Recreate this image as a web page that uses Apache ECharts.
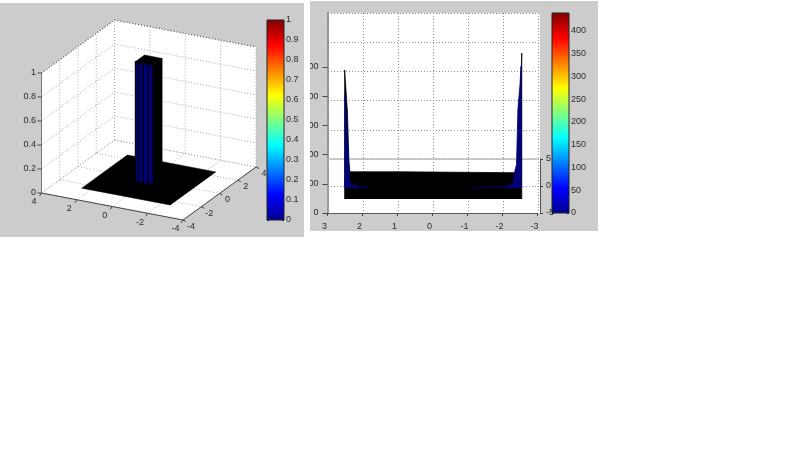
<!DOCTYPE html>
<html>
<head>
<meta charset="utf-8">
<style>html,body{margin:0;padding:0;background:#fff}#c{width:800px;height:449px;filter:blur(0.45px)}</style>
<script src="https://cdn.jsdelivr.net/npm/echarts@6/dist/echarts.min.js"></script>
</head>
<body>
<div id="c"></div>
<script>
// ---- left surface plot data ----
const xTicks3d = [4, 2, 0, -2, -4];
const yTicks3d = [-4, -2, 0, 2, 4];
const zTicks3d = [0, 0.2, 0.4, 0.6, 0.8, 1];
const floorEdge = [-2.5, 2.5];
const floorHeight = 0;
const pulseMeshX = [0.5, 0.33, 0.05, -0.23, -0.5];
const pulseMeshY = [-0.5, 0.5];
const pulseHeight = 1;
// ---- right spectrum data ----
const specTicksX = [-3, -2, -1, 0, 1, 2, 3];
const specTicksV = [0, 100, 200, 300, 400, 500];
const depthTicks = [-5, 0, 5];
const outlineX = [2.51, 2.51, 2.43, 2.39, 2.36, 0.93, 0.9, -2.38, -2.45, -2.55, -2.55];
const outlineV = [48, 490, 345, 183, 141, 141, 138, 138, 172, 548, 48];
const leftBlueX = [2.506, 2.5, 2.47, 2.44, 2.41, 2.39, 2.36, 2.30, 2.24, 2.21, 2.16, 2.01, 1.93, 1.84];
const leftBlueV = [86, 407, 348, 269, 217, 148, 107, 90, 90, 103, 90, 86, 90, 86];
const rightBlueX = [-1.07, -1.93, -2.13, -2.19, -2.24, -2.30, -2.36, -2.40, -2.44, -2.50, -2.53, -2.54];
const rightBlueV = [86, 88, 90, 103, 90, 100, 148, 166, 355, 441, 503, 86];
// ---- colour bars ----
const barMaxLeft = 1;
const barMaxRight = 439;
const jetStops = [[0, '#00008f'], [0.125, '#0000ff'], [0.375, '#00ffff'], [0.5, '#80ff80'], [0.625, '#ffff00'], [0.875, '#ff0000'], [1, '#800000']];

const GRAY = '#cccccc', INK = '#2a2a2a', GRID3D = '#a8a8a8', GRID = '#8f8f8f', NAVY = '#000078';
const FS = 9;
const font = { fontFamily: 'Liberation Sans', fontSize: FS, color: INK };

// Projection of the left 3-D axes
function P(x, y, z) {
  const a = (4 - x) / 8, b = (y + 4) / 8;
  return [41.5 + a * 141.5 + b * 73, 193 + a * 27 - b * 53 - z * 120];
}
const scene = [];
const poly = (pts, fill, stroke, w) => scene.push({ k: 'p', pts, fill, stroke, w: w || 0 });
const seg = (a, b, stroke, dash, w) => scene.push({ k: 'l', a, b, stroke, dash, w: w || 1 });
const txt = (p, s, align) => scene.push({ k: 't', p, s, align });
const DOT = [1, 2];
// walls
poly([P(4,-4,0), P(4,-4,1), P(4,4,1), P(-4,4,1), P(-4,4,0), P(-4,-4,0)], '#ffffff');
yTicks3d.forEach(y => { seg(P(4,y,0), P(4,y,1), GRID3D, DOT); seg(P(4,y,0), P(-4,y,0), GRID3D, DOT); });
xTicks3d.forEach(x => { seg(P(x,4,0), P(x,4,1), GRID3D, DOT); seg(P(x,-4,0), P(x,4,0), GRID3D, DOT); });
zTicks3d.forEach(z => { seg(P(4,-4,z), P(4,4,z), GRID3D, DOT); seg(P(4,4,z), P(-4,4,z), GRID3D, DOT); });
seg(P(4,-4,1), P(4,4,1), '#666', DOT, 1.2); seg(P(4,4,1), P(-4,4,1), '#666', DOT, 1.2);
seg(P(4,-4,0), P(-4,-4,0), '#444'); seg(P(-4,-4,0), P(-4,4,0), '#444'); seg(P(4,-4,0), P(4,-4,1), '#777');
// ticks and labels
zTicks3d.forEach(z => { const p = P(4,-4,z); seg([p[0]-4,p[1]], p, '#444'); txt([p[0]-5.5,p[1]], String(z), 'right'); });
xTicks3d.forEach(x => { const p = P(x,-4,0); seg(p, [p[0]-2,p[1]+3], '#444'); txt([p[0]-7.5,p[1]+9], String(x), 'center'); });
yTicks3d.forEach(y => { const p = P(-4,y,0); seg(p, [p[0]+3,p[1]+1.5], '#444'); txt([p[0]+8,p[1]+6.5], String(y), 'center'); });
// surface: floor then pulse
const [f0, f1] = floorEdge, [py0, py1] = pulseMeshY;
poly([P(f0,f0,floorHeight), P(f1,f0,floorHeight), P(f1,f1,floorHeight), P(f0,f1,floorHeight)], '#000', '#000', 0.5);
const xEnd = pulseMeshX[pulseMeshX.length - 1];
poly([P(xEnd,py0,floorHeight), P(xEnd,py1,floorHeight), P(xEnd,py1,pulseHeight), P(xEnd,py0,pulseHeight)], '#000', '#000', 0.5);
for (let i = 0; i + 1 < pulseMeshX.length; i++) {
  const a = pulseMeshX[i], b = pulseMeshX[i + 1];
  poly([P(a,py0,floorHeight), P(b,py0,floorHeight), P(b,py0,pulseHeight), P(a,py0,pulseHeight)], NAVY, '#000', 1.1);
}
poly([P(pulseMeshX[0],py0,pulseHeight), P(xEnd,py0,pulseHeight), P(xEnd,py1,pulseHeight), P(pulseMeshX[0],py1,pulseHeight)], '#000', '#000', 0.5);

function renderScene(params, api) {
  const e = scene[params.dataIndex];
  const c = p => api.coord(p);
  if (e.k === 'p') return { type: 'polygon', shape: { points: e.pts.map(c) }, style: { fill: e.fill, stroke: e.stroke || null, lineWidth: e.w } };
  if (e.k === 'l') { const a = c(e.a), b = c(e.b);
    return { type: 'line', shape: { x1: a[0], y1: a[1], x2: b[0], y2: b[1] }, style: { stroke: e.stroke, lineWidth: e.w, lineDash: e.dash || null } }; }
  const q = c(e.p);
  return { type: 'text', x: q[0], y: q[1], style: { text: e.s, fill: INK, font: FS + 'px "Liberation Sans"', textAlign: e.align, textVerticalAlign: 'middle' } };
}

const jet = new echarts.graphic.LinearGradient(0, 1, 0, 0, jetStops.map(s => ({ offset: s[0], color: s[1] })));
const hidden = { show: false };

function colorBar(gridIndex, max, interval) {
  const fmt = v => (v > max - 1e-9 && max !== 1) ? '' : String(v);
  return {
    x: { type: 'category', gridIndex, data: ['c'], show: false },
    y: [
      { type: 'value', gridIndex, min: 0, max, interval, position: 'right', splitLine: hidden,
        axisLine: { show: false }, axisTick: { show: true, inside: true, length: 2, lineStyle: { color: '#222' } },
        axisLabel: { ...font, margin: 2, formatter: fmt } },
      { type: 'value', gridIndex, min: 0, max, interval, position: 'left', splitLine: hidden,
        axisLine: { show: false }, axisLabel: hidden, axisTick: { show: true, inside: true, length: 2, lineStyle: { color: '#222' } } }
    ]
  };
}
const cbL = colorBar(4, barMaxLeft, 0.1), cbR = colorBar(5, barMaxRight, 50);
const dotted = { show: true, lineStyle: { color: GRID, type: [1, 2], width: 1 } };

const grids = [
  { left: 0, top: 0, width: 305, height: 237 },                 // 0 3-D scene
  { left: 328, top: 13, width: 210, height: 146 },              // 1 back wall
  { left: 328, top: 159, width: 210, height: 54 },              // 2 floor
  { left: 327.5, top: 13, width: 210, height: 200 },            // 3 spectrum
  { left: 267, top: 20, width: 17, height: 200, show: true, borderColor: '#222', borderWidth: 1, z: 3 },   // 4
  { left: 552, top: 13, width: 17, height: 200, show: true, borderColor: '#222', borderWidth: 1, z: 3 }    // 5
];
const xAxes = [
  { type: 'value', gridIndex: 0, min: 0, max: 305, show: false },
  { type: 'value', gridIndex: 1, min: -3, max: 3, interval: 1, inverse: true, splitLine: dotted, axisLine: { show: false }, axisTick: hidden, axisLabel: hidden },
  { type: 'value', gridIndex: 2, min: -3, max: 3, interval: 1, inverse: true, position: 'top', splitLine: dotted,
    axisLine: { show: true, onZero: false, lineStyle: { color: '#bdbdbd', width: 1.5 } }, axisTick: hidden, axisLabel: hidden },
  { type: 'value', gridIndex: 3, min: -3, max: 3, interval: 1, inverse: true, position: 'bottom', splitLine: hidden,
    axisLine: { show: true, onZero: false, lineStyle: { color: '#555', type: [2, 1] } },
    axisTick: { show: true, length: 3, lineStyle: { color: '#444' } },
    axisLabel: { ...font, margin: 9, padding: [0, 6, 0, 0], customValues: specTicksX, showMinLabel: true, showMaxLabel: true } },
  cbL.x, cbR.x
];
const yAxes = [
  { type: 'value', gridIndex: 0, min: 0, max: 237, inverse: true, show: false },
  { type: 'value', gridIndex: 1, min: 0, max: 5, interval: 1, splitLine: dotted, axisLine: { show: true, onZero: false, lineStyle: { color: '#999', type: [2, 1], width: 1.5 } }, axisTick: hidden, axisLabel: hidden },
  { type: 'value', gridIndex: 2, min: -5, max: 5, interval: 5, position: 'right', offset: 2, splitLine: dotted,
    axisLine: { show: true, onZero: false, lineStyle: { color: '#555' } }, axisTick: { show: true, length: 3, lineStyle: { color: '#444' } },
    axisLabel: { ...font, margin: 6, customValues: depthTicks } },
  { type: 'value', gridIndex: 3, min: 0, max: 685, position: 'left', splitLine: hidden,
    axisLine: { show: true, onZero: false, lineStyle: { color: '#888', type: [2, 1], width: 1.5 } },
    axisTick: { show: true, length: 5, customValues: specTicksV, lineStyle: { color: '#444' } },
    axisLabel: { ...font, margin: 9, customValues: specTicksV } },
  ...cbL.y, ...cbR.y
];
const area = (name, xs, vs, color, origin, z) => ({
  name, type: 'line', xAxisIndex: 3, yAxisIndex: 3, data: xs.map((x, i) => [x, vs[i]]), symbol: 'none', z, silent: true, clip: false,
  lineStyle: { color, width: 0.8 }, areaStyle: { color, opacity: 1, origin }
});
const series = [
  { type: 'custom', name: 'surface', xAxisIndex: 0, yAxisIndex: 0, data: scene.map((_, i) => [i]), renderItem: renderScene, clip: false, silent: true, z: 2 },
  area('outline', outlineX, outlineV, '#000000', 48, 3),
  area('blueLeft', leftBlueX, leftBlueV, NAVY, 86, 4),
  area('blueRight', rightBlueX, rightBlueV, NAVY, 86, 4),
  { type: 'bar', name: 'barL', xAxisIndex: 4, yAxisIndex: 4, data: [barMaxLeft], barWidth: '100%', itemStyle: { color: jet }, silent: true },
  { type: 'bar', name: 'barR', xAxisIndex: 5, yAxisIndex: 6, data: [barMaxRight], barWidth: '100%', itemStyle: { color: jet }, silent: true }
];
const rect = (x, y, w, h, fill, z) => ({ type: 'rect', silent: true, z, shape: { x, y, width: w, height: h }, style: { fill } });

const chart = echarts.init(document.getElementById('c'));
chart.setOption({
  animation: false,
  backgroundColor: '#ffffff',
  grid: grids,
  xAxis: xAxes,
  yAxis: yAxes,
  series,
  graphic: { elements: [
    rect(0, 3, 304, 234, GRAY, -5),
    rect(310, 1, 288, 230, GRAY, -5),
    rect(328, 13, 212, 200, '#ffffff', -4),
    rect(304, 0, 6, 240, '#ffffff', 50)
  ] }
});
</script>
</body>
</html>
